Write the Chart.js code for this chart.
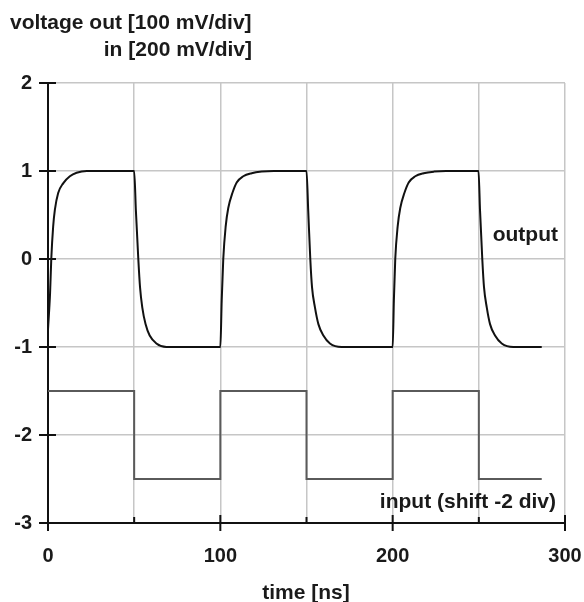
<!DOCTYPE html>
<html>
<head>
<meta charset="utf-8">
<script src="https://cdn.jsdelivr.net/npm/chart.js@4.4.1/dist/chart.umd.min.js"></script>
<style>
html,body{margin:0;padding:0;background:#fff;}
#wrap{width:584px;height:602px;position:relative;}
</style>
</head>
<body>
<div id="wrap"><canvas id="c"></canvas></div>
<script>
// ---- data ----
const outTime = [0, 1.2, 1.9, 3.0, 4.0, 5.9, 8.8, 12.7, 16.6, 22.5, 30, 50,
                 51, 52.4, 53.4, 54.7, 56.6, 59, 62.9, 68.7, 80, 100,
                 100.8, 101.7, 103.1, 104.6, 107, 109.5, 113.3, 118.2, 124, 131, 150,
                 151, 152.2, 153.2, 154.9, 156.9, 159.8, 163.6, 170.4, 180, 200,
                 200.7, 201.5, 202.9, 204.4, 206.8, 209.3, 213.1, 218, 224, 231, 249.8,
                 250.7, 252, 253, 254.6, 256.5, 259.4, 263.3, 270, 280, 286.5];
const outValue = [-0.8, -0.39, 0.0, 0.37, 0.56, 0.75, 0.86, 0.94, 0.98, 1.0, 1.0, 1.0,
                  0.55, 0.0, -0.32, -0.55, -0.74, -0.87, -0.96, -1.0, -1.0, -1.0,
                  -0.47, 0.0, 0.37, 0.58, 0.75, 0.87, 0.94, 0.975, 0.993, 1.0, 1.0,
                  0.55, 0.0, -0.32, -0.55, -0.74, -0.87, -0.96, -1.0, -1.0, -1.0,
                  -0.47, 0.0, 0.37, 0.58, 0.75, 0.87, 0.94, 0.975, 0.993, 1.0, 1.0,
                  0.55, 0.0, -0.32, -0.55, -0.74, -0.87, -0.96, -1.0, -1.0, -1.0];
const inTime  = [0, 50, 50, 100, 100, 150, 150, 200, 200, 250, 250, 286.5];
const inValue = [-1.5, -1.5, -2.5, -2.5, -1.5, -1.5, -2.5, -2.5, -1.5, -1.5, -2.5, -2.5];
const xTickLabels = [0, 100, 200, 300];
const yTicks = [-3, -2, -1, 0, 1, 2];
const majorX = [0, 100, 200, 300];
const minorX = [50, 150, 250];
const texts = {
  yTitle1: 'voltage out [100 mV/div]',
  yTitle2: 'in [200 mV/div]',
  xTitle: 'time [ns]',
  outLabel: 'output',
  inLabel: 'input (shift -2 div)'
};
// --------------------------------------

const FONT = '"Liberation Sans", Arial, Helvetica, sans-serif';
const TXT = '#1a1a1a';

const outPts = outTime.map((t, i) => ({x: t, y: outValue[i]}));
const inPts = inTime.map((t, i) => ({x: t, y: inValue[i]}));

const decor = {
  id: 'decor',
  afterDraw(chart) {
    const ctx = chart.ctx, xs = chart.scales.x, ys = chart.scales.y;
    const a = chart.chartArea;
    ctx.save();
    ctx.strokeStyle = '#111';
    ctx.lineWidth = 2;
    ctx.beginPath();
    majorX.forEach(v => { const p = xs.getPixelForValue(v); ctx.moveTo(p, a.bottom - 8); ctx.lineTo(p, a.bottom + 8); });
    minorX.forEach(v => { const p = xs.getPixelForValue(v); ctx.moveTo(p, a.bottom - 6); ctx.lineTo(p, a.bottom); });
    yTicks.forEach(v => { const p = ys.getPixelForValue(v); ctx.moveTo(a.left - 9, p); ctx.lineTo(a.left + 8, p); });
    ctx.stroke();

    ctx.fillStyle = TXT;
    ctx.font = 'bold 21px ' + FONT;
    ctx.textBaseline = 'alphabetic';
    ctx.textAlign = 'left';
    ctx.fillText(texts.yTitle1, 10, 29);
    ctx.textAlign = 'right';
    ctx.fillText(texts.yTitle2, 252, 56);
    ctx.fillText(texts.outLabel, 558, 241);
    ctx.fillText(texts.inLabel, 556, 508);
    ctx.textAlign = 'center';
    ctx.fillText(texts.xTitle, 306, 599);
    ctx.restore();
  }
};

new Chart(document.getElementById('c'), {
  type: 'line',
  data: {
    datasets: [
      {label: 'input', data: inPts, borderColor: '#5a5a5a', borderWidth: 2, pointRadius: 0, tension: 0, fill: false},
      {label: 'output', data: outPts, borderColor: '#111', borderWidth: 2, pointRadius: 0, cubicInterpolationMode: 'monotone', fill: false}
    ]
  },
  options: {
    responsive: true,
    maintainAspectRatio: false,
    animation: false,
    layout: {padding: {left: 0, top: 83, right: 19, bottom: 0}},
    plugins: {legend: {display: false}, tooltip: {enabled: false}, title: {display: false}},
    scales: {
      x: {
        type: 'linear', min: 0, max: 300,
        afterFit: s => { s.height = 79; s.paddingLeft = 0; s.paddingRight = 0; },
        grid: {color: '#c6c6c6', lineWidth: 1.5, drawTicks: false},
        border: {display: true, color: '#111', width: 2},
        ticks: {
          stepSize: 50, autoSkip: false, maxRotation: 0, padding: 21,
          color: TXT, font: {family: FONT, size: 20, weight: 'bold'},
          callback: v => xTickLabels.includes(v) ? String(v) : ''
        }
      },
      y: {
        type: 'linear', min: -3, max: 2,
        afterFit: s => { s.width = 48; s.paddingTop = 0; s.paddingBottom = 0; },
        grid: {color: '#c6c6c6', lineWidth: 1.5, drawTicks: false},
        border: {display: true, color: '#111', width: 2},
        ticks: {
          stepSize: 1, padding: 16, color: TXT,
          font: {family: FONT, size: 20, weight: 'bold'},
          callback: v => yTicks.includes(v) ? String(v) : ''
        }
      }
    }
  },
  plugins: [decor]
});
</script>
</body>
</html>
